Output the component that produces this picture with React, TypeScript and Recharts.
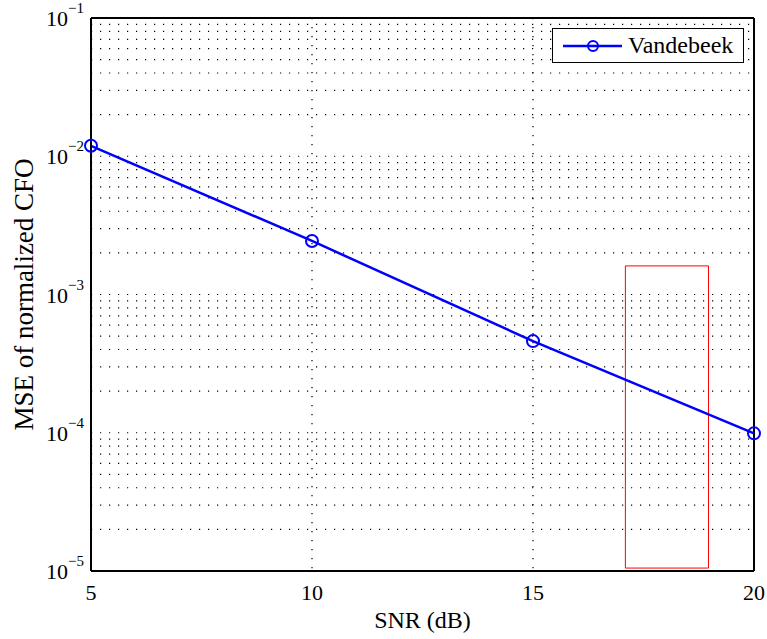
import { LineChart, Line, XAxis, YAxis, CartesianGrid, ReferenceLine, ReferenceArea, Label } from "recharts"

const SNR_DB = [5, 10, 15, 20]
const MSE_VANDEBEEK = [1.19e-2, 2.44e-3, 4.6e-4, 0.99e-4]

const X_TICKS = [5, 10, 15, 20]
const DECADES = [-5, -4, -3, -2]
// every 1..9 x 10^k, plus the top 10^-1
const Y_TICKS = [...DECADES.flatMap((d) => [1, 2, 3, 4, 5, 6, 7, 8, 9].map((m) => m * Math.pow(10, d))), 1e-1]

// red highlight box
const BOX_X = [17.09, 18.97]
const BOX_Y = [1.05e-5, 1.61e-3]

const data = SNR_DB.map((snr, i) => ({ snr, mse: MSE_VANDEBEEK[i] }))

const FONT = "'Liberation Serif', 'Times New Roman', serif"

const YTick = ({ x, y, payload }: { x: number; y: number; payload: { value: number } }) => {
  const e = Math.log10(payload.value)
  if (Math.abs(e - Math.round(e)) > 1e-6) return null
  return (
    <text x={x + 1} y={y + 8} textAnchor="end" fontFamily={FONT} fill="#000">
      <tspan fontSize={22}>10</tspan>
      <tspan fontSize={15} dy={-13}>{"\u2212" + Math.abs(Math.round(e))}</tspan>
    </text>
  )
}

const LegendBox = () => (
  <div
    style={{
      position: "absolute",
      left: 552,
      top: 28,
      width: 192,
      height: 35,
      boxSizing: "border-box",
      border: "1px solid #000",
      background: "#fff",
      display: "flex",
      alignItems: "center",
      fontFamily: FONT,
      fontSize: 24,
      color: "#000",
    }}
  >
    <svg width={70} height={20} style={{ marginLeft: 8 }}>
      <line x1={2} y1={10} x2={61} y2={10} stroke="#0000ff" strokeWidth={2.5} />
      <circle cx={32} cy={10} r={5} stroke="#0000ff" strokeWidth={2} fill="none" />
    </svg>
    <span style={{ marginLeft: -3 }}>Vandebeek</span>
  </div>
)

export default function App() {
  return (
    <div style={{ position: "absolute", left: 0, top: 0, width: 767, height: 639, background: "#fff" }}>
      <LineChart width={767} height={639} data={data} margin={{ top: 18, right: 13, bottom: 0, left: 0 }}>
        <CartesianGrid stroke="#000" strokeWidth={1.2} strokeDasharray="1.2 7.8" />
        <XAxis
          dataKey="snr"
          type="number"
          domain={[5, 20]}
          ticks={X_TICKS}
          height={68}
          tickLine={false}
          tickMargin={7}
          axisLine={{ stroke: "#000", strokeWidth: 2 }}
          tick={{ fontSize: 22, fill: "#000", fontFamily: FONT }}
        >
          <Label value="SNR (dB)" position="insideBottom" offset={11} style={{ fontSize: 24, fill: "#000", fontFamily: FONT }} />
        </XAxis>
        <YAxis
          scale="log"
          type="number"
          domain={[1e-5, 1e-1]}
          allowDataOverflow
          ticks={Y_TICKS}
          interval={0}
          width={91}
          tickLine={false}
          axisLine={{ stroke: "#000", strokeWidth: 2 }}
          tick={YTick as any}
        >
          <Label
            value="MSE of normalized CFO"
            angle={-90}
            position="insideLeft"
            offset={23}
            style={{ fontSize: 27, fill: "#000", fontFamily: FONT, textAnchor: "middle" }}
          />
        </YAxis>
        <ReferenceLine y={1e-1} stroke="#000" strokeWidth={2} />
        <ReferenceLine x={20} stroke="#000" strokeWidth={2} />
        <ReferenceArea x1={BOX_X[0]} x2={BOX_X[1]} y1={BOX_Y[0]} y2={BOX_Y[1]} stroke="#ff0000" strokeWidth={1} fill="none" fillOpacity={0} />
        <Line
          dataKey="mse"
          stroke="#0000ff"
          strokeWidth={2.5}
          dot={{ r: 6, stroke: "#0000ff", strokeWidth: 2, fill: "none" }}
          isAnimationActive={false}
        />
      </LineChart>
      <LegendBox />
    </div>
  )
}
